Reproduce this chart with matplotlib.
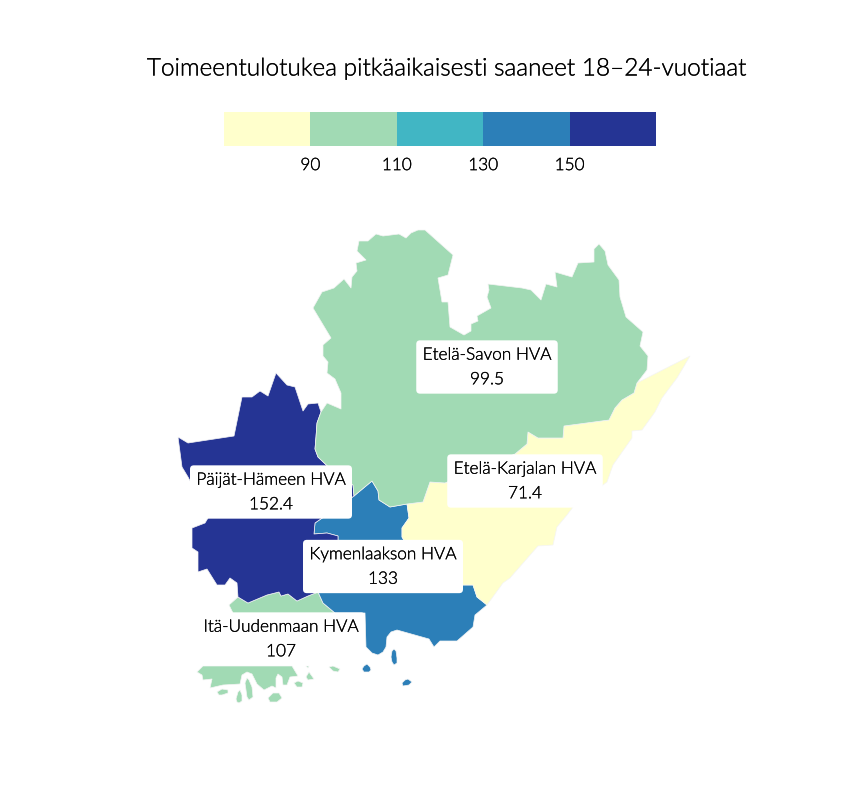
import numpy as np
import matplotlib
matplotlib.use("Agg")
import matplotlib.pyplot as plt
import matplotlib.patheffects as pe
from matplotlib.patches import Polygon

plt.rcParams['font.family'] = ['Lato', 'DejaVu Sans']

TITLE = "Toimeentulotukea pitkäaikaisesti saaneet 18–24-vuotiaat"
regions = ["Etelä-Savon HVA", "Etelä-Karjalan HVA", "Päijät-Hämeen HVA", "Kymenlaakson HVA", "Itä-Uudenmaan HVA"]
values = [99.5, 71.4, 152.4, 133, 107]
value_labels = ["99.5", "71.4", "152.4", "133", "107"]
breaks = [70, 90, 110, 130, 150, 170]
tick_breaks = [90, 110, 130, 150]
palette = ["#ffffcc", "#a1dab4", "#41b6c4", "#2c7fb8", "#253494"]

# Map geometry (projected map units)
savo = [(425,230),(453,255),(448,275),(438,278),(442,302),(448,302),(450,327),(464,335),(471,331),(471,324),
        (478,321),(477,316),(491,308),(487,297),(489,290),(488,284),(522,288),(531,290),(541,300),(546,284),
        (557,287),(555,272),(572,277),(578,263),(594,262),(594,249),(599,244),(605,251),(608,265),(619,280),
        (620,297),(626,317),(643,332),(640,346),(648,356),(647,370),(637,383),(634,393),(622,400),(615,408),
        (609,420),(564,426),(563,438),(538,438),(528,432),(527,444),(515,454),(445,483),(430,482),(423,502),
        (407,504),(390,507),(379,500),(378,491),(372,481),(354,496),(353,485),(342,480),(318,457),(315,449),
        (316,437),(317,423),(321,412),(327,403),(341,409),(341,393),(335,379),(327,373),(328,362),(323,356),
        (323,345),(331,338),(313,308),(322,292),(334,288),(344,279),(351,288),(352,277),(357,271),(356,263),
        (366,260),(357,251),(359,241),(368,241),(376,234),(383,236),(399,234),(406,238),(411,233),(418,230)]
karjala = [(527,444),(528,432),(538,438),(563,438),(564,426),(609,420),(615,408),(622,400),(634,393),(637,383),
           (690,356),(683,368),(677,378),(662,398),(655,412),(642,430),(632,431),(632,438),(613,465),(607,482),
           (573,507),(567,515),(557,527),(553,545),(538,546),(510,578),(503,583),(487,605),(477,597),(473,585),
           (463,585),(440,570),(410,550),(402,537),(402,528),(409,518),(407,504),(423,502),(430,482),(445,483),(515,454)]
kymen = [(372,481),(378,491),(379,500),(390,507),(407,504),(409,518),(402,528),(402,537),(410,550),(440,570),
         (463,585),(473,585),(477,597),(487,605),(475,615),(473,627),(457,641),(440,641),(434,647),(429,639),
         (397,630),(391,632),(387,637),(386,647),(383,652),(378,655),(372,653),(366,647),(365,613),(335,613),(323,603),(318,592),
         (322,540),(338,540),(338,536),(327,533),(314,534),(315,523),(354,496)]
kymen_isles = [[(362,669),(364,666),(367,664),(370,667),(371,670),(369,672),(364,672)],
               [(391,657),(392,651),(394,649),(396,651),(397,658),(397,663),(394,665),(392,662)],
               [(402,683),(405,680),(408,679),(412,682),(409,685),(403,686)]]
paijat = [(178,437),(188,443),(234,436),(242,397),(252,397),(260,391),(268,396),(276,373),(287,385),(295,387),
          (303,411),(308,404),(318,403),(321,412),(317,423),(316,437),(315,449),(318,457),(342,480),(353,485),
          (354,496),(315,523),(314,534),(327,533),(338,536),(338,540),(322,560),(318,592),(308,596),(297,601),
          (288,594),(281,596),(279,592),(267,595),(248,603),(238,597),(237,583),(230,578),(225,585),(217,585),
          (207,569),(198,572),(198,552),(192,548),(192,528),(205,523),(208,518),(195,490),(188,477),(182,467)]
uusimaa = [(229,605),(238,597),(248,603),(267,595),(279,592),(281,596),(288,594),(297,601),(308,596),(318,592),
           (323,603),(335,613),(335,630),(240,630),(233,613)]
uusimaa_coast = [(197,672),(203,666),(292,666),(298,676),(290,677),(287,685),(283,685),(282,677),(278,674),(276,678),
                 (276,688),(272,686),(264,690),(257,684),(252,674),(247,672),(242,675),(240,684),(223,685),(210,688),
                 (212,679),(203,680),(202,675)]
uusimaa_isles = [[(217,692),(222,689),(228,690),(228,693),(222,695),(219,695)],
                 [(236,699),(238,692),(240,690),(242,695),(242,701),(239,703),(237,702)],
                 [(245,683),(247,678),(249,680),(252,687),(253,697),(249,700),(247,697)],
                 [(268,698),(273,693),(279,693),(282,698),(277,702),(270,702)],
                 [(294,683),(298,681),(303,683),(302,687),(297,687)],
                 [(306,677),(309,672),(314,679),(308,680)],
                 [(306,666),(309,666),(308,668)],
                 [(329,667),(333,666),(340,669),(338,672),(333,671)]]
shapes = [[savo], [karjala], [paijat], [kymen] + kymen_isles, [uusimaa, uusimaa_coast] + uusimaa_isles]
label_x = [487, 525, 271, 383, 281]
label_y = [367, 481, 492, 566.5, 639]

fig = plt.figure(figsize=(8.64, 7.92), dpi=100, facecolor="white")
ax = fig.add_axes([0, 0, 1, 1])
ax.set_xlim(0, 864)
ax.set_ylim(792, 0)
ax.axis("off")


def colour(v):
    return palette[int(np.digitize(v, breaks)) - 1]


order = [4, 3, 2, 1, 0]
for i in order:
    for poly in shapes[i]:
        ax.add_patch(Polygon(poly, closed=True, facecolor=colour(values[i]), edgecolor="#f4f4f4",
                             linewidth=0.5, joinstyle="round", zorder=2))

ink = [pe.withStroke(linewidth=0.2, foreground="black")]
for name, val, x, y in zip(regions, value_labels, label_x, label_y):
    ax.text(x, y, f"{name}\n{val}", ha="center", va="center", fontsize=12.4, weight=300,
            color="black", linespacing=1.66, zorder=5, path_effects=ink,
            bbox=dict(boxstyle="round,pad=0.37,rounding_size=0.22", fc="white", ec="none"))

ax.text(447, 69, TITLE, ha="center", va="center", fontsize=17.55, weight=300, color="black",
        zorder=6, path_effects=ink)

# legend colour strip
lax = fig.add_axes([224 / 864, 1 - 146 / 792, (656 - 224) / 864, 34 / 792])
for lo, hi, c in zip(breaks[:-1], breaks[1:], palette):
    lax.barh(0, hi - lo, left=lo, height=1, color=c, edgecolor="none")
lax.set_xlim(breaks[0], breaks[-1])
lax.set_ylim(-0.5, 0.5)
lax.set_yticks([])
lax.set_xticks(tick_breaks)
lax.set_xticklabels([str(t) for t in tick_breaks], fontsize=12.4, weight=300, path_effects=ink)
lax.tick_params(axis="x", length=0, pad=8)
for s in lax.spines.values():
    s.set_visible(False)

fig.savefig("out.png", dpi=100)
